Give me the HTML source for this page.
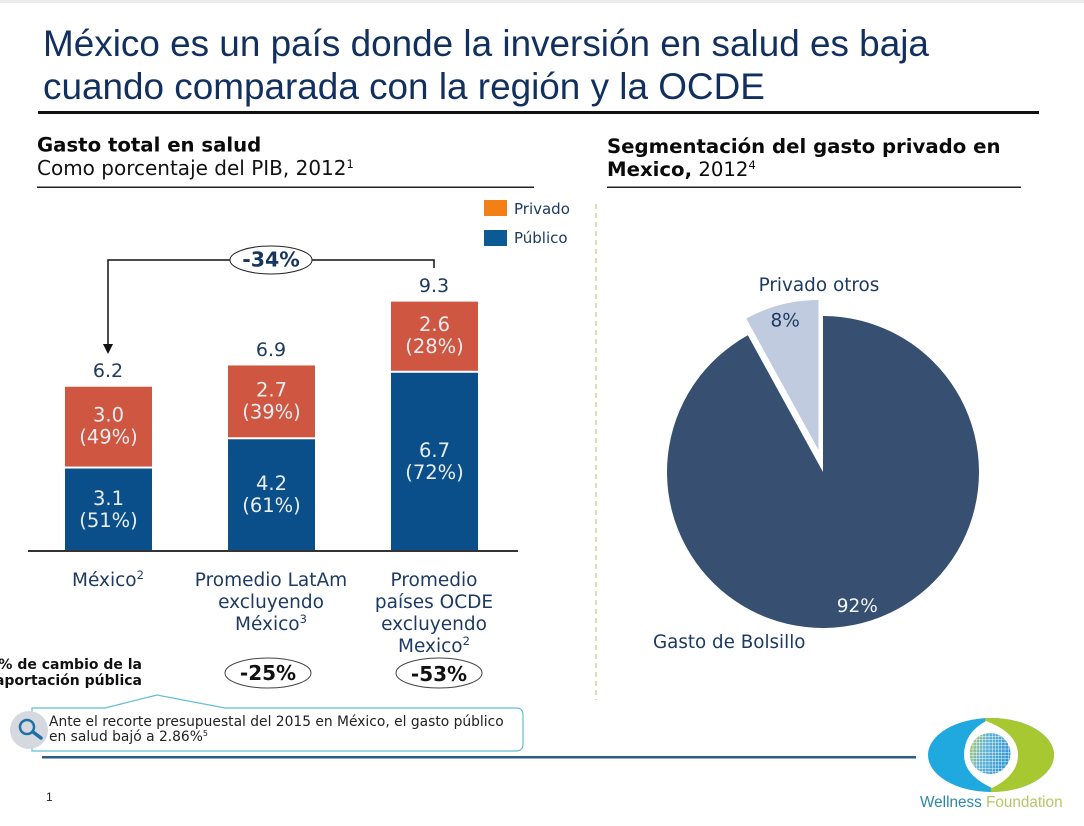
<!DOCTYPE html>
<html lang="es">
<head>
<meta charset="utf-8">
<title>México gasto en salud</title>
<style>
html,body{margin:0;padding:0;background:#fff;}
svg{display:block;}
text{font-family:"DejaVu Sans","Liberation Sans",sans-serif;}
.title{font-family:"Liberation Sans",sans-serif;font-size:36.9px;fill:#12305f;}
.head{font-size:19.7px;fill:#0a0a0a;}
.lab{font-size:18.5px;fill:#1d3a63;text-anchor:middle;}
.tot{font-size:19px;fill:#1d3a63;text-anchor:middle;}
.seg{font-size:19.5px;fill:#e9edf1;text-anchor:middle;}
</style>
</head>
<body>
<svg id="slide" width="1084" height="826" viewBox="0 0 1084 826" xmlns="http://www.w3.org/2000/svg">
<defs>
<linearGradient id="globeFill" x1="0" y1="0" x2="1" y2="0.3">
<stop offset="0" stop-color="#b9cf5a"/>
<stop offset="0.45" stop-color="#5db2d6"/>
<stop offset="1" stop-color="#2f96d4"/>
</linearGradient>
<pattern id="globeGrid" x="0" y="0" width="3.200" height="3.200" patternUnits="userSpaceOnUse">
<path d="M0 0H3.200M0 0V3.200" stroke="#ffffff" stroke-width="0.900" fill="none"/>
</pattern>
</defs>
<rect width="1084" height="826" fill="#ffffff"/>
<rect width="1084" height="3" fill="#ececec"/>

<text class="title" x="43" y="56">México es un país donde la inversión en salud es baja</text>
<text class="title" x="43" y="99">cuando comparada con la región y la OCDE</text>
<rect x="38" y="111" width="1001" height="3" fill="#111"/>

<text class="head" x="37" y="151.500" font-weight="700">Gasto total en salud</text>
<text x="37" y="175" font-size="20" fill="#111">Como porcentaje del PIB, 2012<tspan font-size="11.500" dy="-7">1</tspan></text>
<rect x="37" y="186.500" width="497" height="1.500" fill="#222"/>

<text class="head" x="607" y="153" font-weight="700">Segmentación del gasto privado en</text>
<text class="head" x="607" y="176"><tspan font-weight="700">Mexico,</tspan> 2012<tspan font-size="11.500" dy="-7">4</tspan></text>
<rect x="607" y="186.500" width="414" height="1.500" fill="#222"/>

<line x1="596" y1="204" x2="596" y2="700" stroke="#d9cf9c" stroke-width="1.500" stroke-dasharray="5 4"/>

<rect x="484" y="200" width="23" height="16" fill="#f57f17"/>
<text x="514" y="214" font-size="15" fill="#1d3a63">Privado</text>
<rect x="484" y="230" width="23" height="16" fill="#0b5a96"/>
<text x="514" y="243" font-size="15" fill="#1d3a63">Público</text>

<g id="bars"></g>
<rect x="28" y="550" width="490" height="2" fill="#333"/>

<path d="M434 268V260H108V345" fill="none" stroke="#111" stroke-width="1.500"/>
<path d="M103 344H113L108 354Z" fill="#111"/>
<ellipse cx="271" cy="260" rx="41" ry="14" fill="#fff" stroke="#222" stroke-width="1"/>
<text x="271" y="266.500" font-size="20.500" font-weight="700" fill="#17365d" text-anchor="middle">-34%</text>

<text class="lab" x="108" y="586">México<tspan font-size="11.500" dy="-7">2</tspan></text>
<text class="lab" x="271" y="586">Promedio LatAm</text>
<text class="lab" x="271" y="608">excluyendo</text>
<text class="lab" x="271" y="630">México<tspan font-size="11.500" dy="-7">3</tspan></text>
<text class="lab" x="434" y="586">Promedio</text>
<text class="lab" x="434" y="608">países OCDE</text>
<text class="lab" x="434" y="630">excluyendo</text>
<text class="lab" x="434" y="652">Mexico<tspan font-size="11.500" dy="-7">2</tspan></text>

<text x="142" y="669" font-size="14" font-weight="700" fill="#111" text-anchor="end">% de cambio de la</text>
<text x="142" y="685" font-size="14" font-weight="700" fill="#111" text-anchor="end">aportación pública</text>
<ellipse cx="268" cy="673" rx="43" ry="15" fill="#fff" stroke="#444" stroke-width="1"/>
<text x="268" y="680" font-size="20" font-weight="700" fill="#111" text-anchor="middle">-25%</text>
<ellipse cx="439" cy="673" rx="43" ry="15" fill="#fff" stroke="#444" stroke-width="1"/>
<text x="439" y="681" font-size="20" font-weight="700" fill="#111" text-anchor="middle">-53%</text>

<path d="M32 708H105L157 695L225 708H516Q523 708 523 715V744Q523 751 516 751H32Z" fill="#fff" stroke="#62c0d2" stroke-width="1.200"/>
<circle cx="29" cy="730" r="19" fill="#d5d8de"/>
<circle cx="27" cy="727" r="7" fill="none" stroke="#1d6fa8" stroke-width="2.500"/>
<line x1="33" y1="732" x2="41" y2="738" stroke="#1d6fa8" stroke-width="3.500" stroke-linecap="round"/>
<text x="49" y="726" font-size="13.830" fill="#222">Ante el recorte presupuestal del 2015 en México, el gasto público</text>
<text x="49" y="741" font-size="13.830" fill="#222">en salud bajó a 2.86%<tspan font-size="8" dy="-5">5</tspan></text>
<rect x="42" y="756" width="874" height="2.500" fill="#2f5a85"/>
<text x="46" y="801" font-size="12" fill="#222" style="font-family:'Liberation Sans',sans-serif">1</text>

<g id="pie"></g>
<text x="819" y="291" font-size="18.400" fill="#1d3a63" text-anchor="middle">Privado otros</text>
<text x="653" y="648" font-size="18.300" fill="#1d3a63">Gasto de Bolsillo</text>

<g>
<ellipse cx="991" cy="755" rx="63" ry="37" fill="#1fa9df"/>
<path d="M985 718.300A63 37 0 0 1 991 718C1026 718 1054 735 1054 755C1054 775 1026 792 991 792Z" fill="#a8c832"/>
<path d="M986 721Q1018 733 1018 755Q1018 775 992 788Q964 775 964 755Q964 733 986 721Z" fill="#fff"/>
<circle cx="990" cy="753.500" r="20.500" fill="url(#globeFill)"/>
<circle cx="990" cy="753.500" r="20.500" fill="url(#globeGrid)"/>
<text x="920" y="807" font-size="15.300" fill="#2b86ad" style="font-family:'Liberation Sans',sans-serif">Wellness <tspan fill="#b3c763">Foundation</tspan></text>
</g>
</svg>

<script>
var categories = ["México", "LatAm", "OCDE"];
var publicValues = [3.1, 4.2, 6.7];
var privateValues = [3.0, 2.7, 2.6];
var publicShares = [51, 61, 72];
var privateShares = [49, 39, 28];
var totals = [6.2, 6.9, 9.3];
var pieLabels = ["Gasto de Bolsillo", "Privado otros"];
var pieValues = [92, 8];

var NS = "http://www.w3.org/2000/svg";
function make(tag, attrs, parent, txt) {
  var el = document.createElementNS(NS, tag);
  for (var k in attrs) { el.setAttribute(k, attrs[k]); }
  if (txt !== undefined) { el.textContent = txt; }
  parent.appendChild(el);
  return el;
}
function xCenter(i) { return 108.5 + i * 163; }
function yPos(v) { return 551 - v * 26.6; }

var barsG = document.getElementById("bars");
var barWidth = 87;
categories.forEach(function (cat, i) {
  var cx = xCenter(i);
  var pubTop = yPos(publicValues[i]);
  var privBottom = pubTop - 2;
  var privH = privateValues[i] * 26.6;
  var privTop = privBottom - privH;

  var pubBar = make("rect", {x: cx - barWidth / 2, y: pubTop, width: barWidth, height: 551 - pubTop, fill: "#0b4f8a"}, barsG);
  
  

  var privBar = make("rect", {x: cx - barWidth / 2, y: privTop, width: barWidth, height: privH, fill: "#cf5640"}, barsG);
  
  

  var pubMid = (pubTop + 551) / 2;
  var privMid = privTop + privH / 2;

  var t1 = make("text", {"class": "seg", x: cx, y: pubMid - 5}, barsG, publicValues[i].toFixed(1));
  
  
  var t2 = make("text", {"class": "seg", x: cx, y: pubMid + 17}, barsG, "(" + publicShares[i] + "%)");
  
  
  var t3 = make("text", {"class": "seg", x: cx, y: privMid - 5}, barsG, privateValues[i].toFixed(1));
  
  
  var t4 = make("text", {"class": "seg", x: cx, y: privMid + 17}, barsG, "(" + privateShares[i] + "%)");
  
  
  var t5 = make("text", {"class": "tot", x: cx - 0.5, y: privTop - 9.5}, barsG, totals[i].toFixed(1));
  
  
});

var pieG = document.getElementById("pie");
var pieCx = 823, pieCy = 472;
var pieColors = ["#374f70", "#c0cbe0"];
var pieTextColors = ["#f2f4f8", "#1d3a63"];
var pieSum = pieValues.reduce(function (a, b) { return a + b; }, 0);
var startAngle = 0;
pieValues.forEach(function (v, i) {
  var sweep = v / pieSum * 2 * Math.PI;
  var endAngle = startAngle + sweep;
  var mid = startAngle + sweep / 2;
  var isSmall = i === 1;
  var r = isSmall ? 150 : 156;
  var ax = isSmall ? pieCx - 4.5 : pieCx;
  var ay = isSmall ? pieCy - 22 : pieCy;
  var x0 = ax + r * Math.sin(startAngle), y0 = ay - r * Math.cos(startAngle);
  var x1 = ax + r * Math.sin(endAngle), y1 = ay - r * Math.cos(endAngle);
  var large = sweep > Math.PI ? 1 : 0;
  var d = "M" + ax + " " + ay + "L" + x0 + " " + y0 + "A" + r + " " + r + " 0 " + large + " 1 " + x1 + " " + y1 + "Z";
  var slice = make("path", {d: d, fill: pieColors[i]}, pieG);
  
  
  slice.setAttribute('aria-label', pieLabels[i]);

  var labR = isSmall ? 134 : 138;
  var lx = ax + labR * Math.sin(mid);
  var ly = ay - labR * Math.cos(mid) + 6.5;
  var lbl = make("text", {x: lx, y: ly, "font-size": 18.5, fill: pieTextColors[i], "text-anchor": "middle"}, pieG, v + "%");
  
  
  startAngle = endAngle;
});
</script>
</body>
</html>
